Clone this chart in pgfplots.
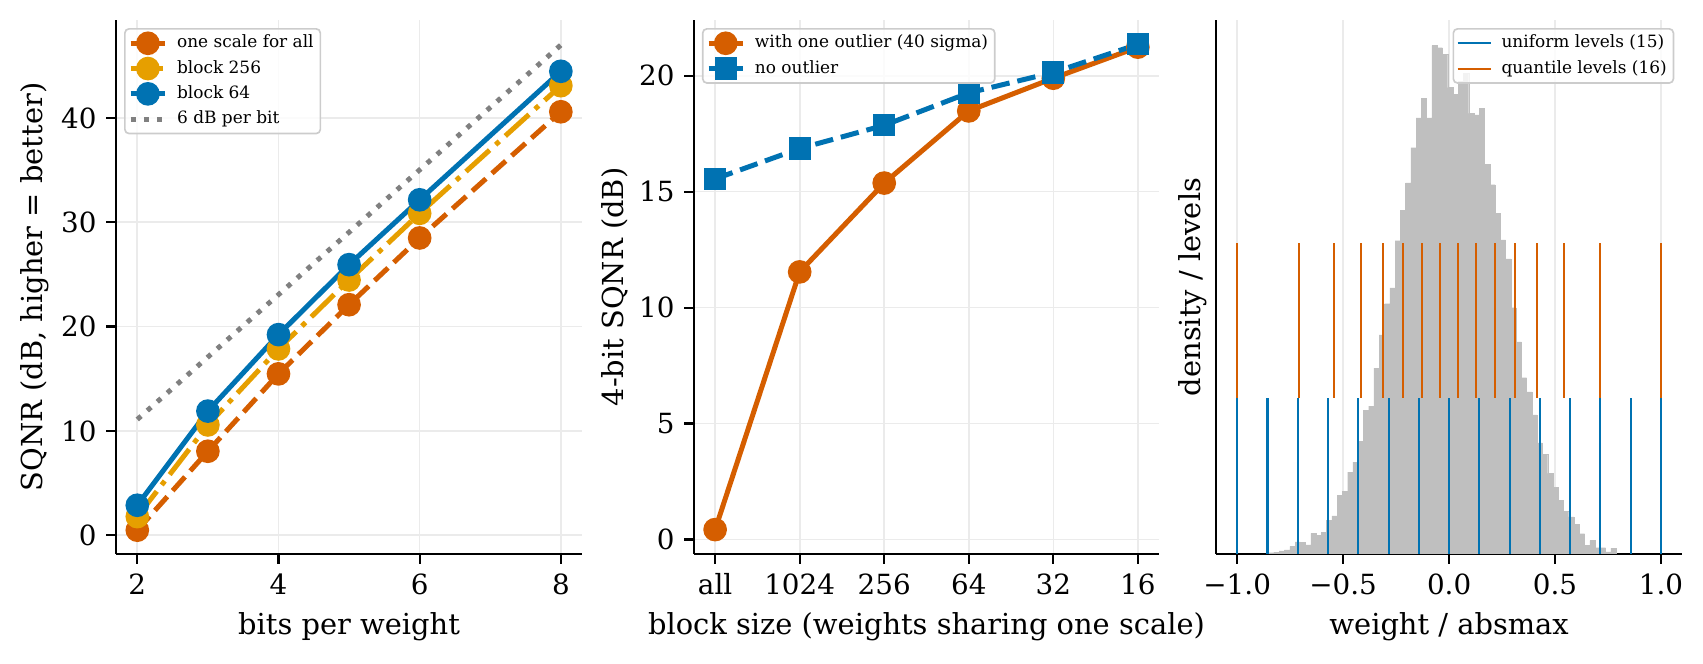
\documentclass[border=0pt]{standalone}
\usepackage{fontspec}
\setmainfont{DejaVu Serif}
\usepackage{pgfplots}
\usepackage{pgfplotstable}
\pgfplotsset{compat=1.18}

\definecolor{cvermil}{HTML}{D55E00}
\definecolor{corange}{HTML}{E69F00}
\definecolor{cblue}{HTML}{0072B2}
\definecolor{cgray}{HTML}{808080}
\definecolor{cgrid}{HTML}{EBEBEB}
\definecolor{histgray}{HTML}{BFBFBF}

% SQNR against bits per weight
\pgfplotstableread{
bits onescale block256 block64
2 0.48 1.78 2.87
3 8.05 10.57 11.90
4 15.47 17.86 19.23
5 22.10 24.47 25.94
6 28.50 30.86 32.16
8 40.60 43.10 44.48
}\bitstable

% 6 dB per bit reference line
\pgfplotstableread{
bits ref
2 11.1
8 47.0
}\reftable

% 4-bit SQNR against block size (0 = all, 1 = 1024, ..., 5 = 16)
\pgfplotstableread{
pos outlier clean
0 0.43 15.55
1 11.54 16.86
2 15.37 17.86
3 18.48 19.26
4 19.89 20.14
5 21.23 21.35
}\blocktable

% histogram of weight / absmax (left bin edges, density)
\pgfplotstableread{
left density
-0.8513 0.004
-0.8265 0.006
-0.8016 0.010
-0.7768 0.013
-0.7519 0.024
-0.7271 0.039
-0.7023 0.037
-0.6774 0.029
-0.6526 0.066
-0.6277 0.059
-0.6029 0.070
-0.5781 0.109
-0.5532 0.122
-0.5284 0.189
-0.5035 0.202
-0.4787 0.263
-0.4539 0.295
-0.4290 0.362
-0.4042 0.461
-0.3793 0.475
-0.3545 0.597
-0.3297 0.704
-0.3048 0.804
-0.2800 0.855
-0.2551 1.006
-0.2303 1.103
-0.2055 1.192
-0.1806 1.305
-0.1558 1.401
-0.1309 1.463
-0.1061 1.401
-0.0813 1.633
-0.0564 1.626
-0.0316 1.605
-0.0067 1.498
0.0181 1.476
0.0429 1.518
0.0678 1.543
0.0926 1.415
0.1175 1.410
0.1423 1.431
0.1671 1.252
0.1920 1.186
0.2168 1.095
0.2417 1.009
0.2665 0.948
0.2913 0.791
0.3162 0.681
0.3410 0.566
0.3659 0.521
0.3907 0.447
0.4155 0.357
0.4404 0.321
0.4652 0.259
0.4901 0.215
0.5149 0.173
0.5397 0.138
0.5646 0.119
0.5894 0.096
0.6143 0.065
0.6391 0.028
0.6639 0.043
0.6888 0.020
0.7136 0.020
0.7385 0.007
0.7633 0.019
0.7881 0
}\histtable

% 4-bit level sets: position, segment centre, segment half-height
\pgfplotstableread{
v mid half
-1.0000 0.25 0.25
-0.8571 0.25 0.25
-0.7143 0.25 0.25
-0.5714 0.25 0.25
-0.4286 0.25 0.25
-0.2857 0.25 0.25
-0.1429 0.25 0.25
0.0000 0.25 0.25
0.1429 0.25 0.25
0.2857 0.25 0.25
0.4286 0.25 0.25
0.5714 0.25 0.25
0.7143 0.25 0.25
0.8571 0.25 0.25
1.0000 0.25 0.25
}\uniformlevels

\pgfplotstableread{
v mid half
-1.000 0.75 0.25
-0.710 0.75 0.25
-0.544 0.75 0.25
-0.416 0.75 0.25
-0.312 0.75 0.25
-0.218 0.75 0.25
-0.128 0.75 0.25
-0.0427 0.75 0.25
0.0427 0.75 0.25
0.128 0.75 0.25
0.218 0.75 0.25
0.312 0.75 0.25
0.416 0.75 0.25
0.544 0.75 0.25
0.710 0.75 0.25
1.000 0.75 0.25
}\quantilelevels

\pgfplotsset{
  panel/.style={
    scale only axis, width=167.7pt, height=192.2pt,
    anchor=south west,
    axis x line=bottom, axis y line=left,
    axis line style={-, line width=0.8pt, black},
    tick align=outside, major tick length=3.5pt,
    every tick/.style={black, line width=0.8pt},
    tick label style={font=\fontsize{10}{12}\selectfont},
    label style={font=\fontsize{10.4}{12.5}\selectfont},
    /pgf/number format/assume math mode=true,
    grid=major, major grid style={draw=cgrid, line width=0.6pt},
    legend cell align=left,
    legend style={font=\fontsize{6.1}{7.3}\selectfont, draw=black!20,
      fill=white, fill opacity=0.8, text opacity=1, rounded corners=1.5pt,
      line width=0.6pt, inner xsep=1.2pt, inner ysep=0.8pt,
      row sep=0.3pt, column sep=2.2pt,
      nodes={inner sep=1.2pt, text height=4.8pt, text depth=1.6pt}},
  },
  markline/.style={
    legend image code/.code={\draw[opacity=1, mark repeat=2, mark phase=2, ##1]
      plot coordinates {(0pt,0pt) (6.2pt,0pt) (12.4pt,0pt)};},
  },
}

\begin{document}
\begin{tikzpicture}
\useasboundingbox (0,0) rectangle (613pt,238.7pt);

% left: SQNR vs bits
\begin{axis}[panel, markline, at={(41.8pt,39.3pt)},
  xmin=1.7, xmax=8.3, ymin=-1.8, ymax=49.4,
  xtick={2,4,6,8}, ytick={0,10,20,30,40},
  xlabel={bits per weight}, ylabel={SQNR (dB, higher = better)},
  xlabel style={at={(axis description cs:0.5,-0.136)}, anchor=center},
  ylabel style={at={(axis description cs:-0.175,0.5)}, anchor=center},
  legend style={at={(0.017,0.985)}, anchor=north west},
]
\addplot[cvermil, line width=1.8pt, dash pattern=on 6.66pt off 2.88pt,
  mark=*, mark size=3.35pt, mark options={solid, draw=none, fill=cvermil}]
  table[x=bits, y=onescale] {\bitstable};
\addlegendentry{one scale for all}
\addplot[corange, line width=1.8pt, dash pattern=on 11.5pt off 2.9pt on 1.8pt off 2.9pt,
  mark=*, mark size=3.35pt, mark options={solid, draw=none, fill=corange}]
  table[x=bits, y=block256] {\bitstable};
\addlegendentry{block 256}
\addplot[cblue, line width=1.8pt,
  mark=*, mark size=3.35pt, mark options={solid, draw=none, fill=cblue}]
  table[x=bits, y=block64] {\bitstable};
\addlegendentry{block 64}
\addplot[cgray, line width=1.8pt, dash pattern=on 1.8pt off 3.0pt]
  table[x=bits, y=ref] {\reftable};
\addlegendentry{6 dB per bit}
\end{axis}

% middle: 4-bit SQNR vs block size
\begin{axis}[panel, markline, at={(249.8pt,39.3pt)}, width=167.4pt,
  xmin=-0.25, xmax=5.25, ymin=-0.62, ymax=22.4,
  xtick={0,1,2,3,4,5}, xticklabels={all,1024,256,64,32,16},
  ytick={0,5,10,15,20},
  xlabel={block size (weights sharing one scale)}, ylabel={4-bit SQNR (dB)},
  xlabel style={at={(axis description cs:0.5,-0.136)}, anchor=center},
  ylabel style={at={(axis description cs:-0.170,0.5)}, anchor=center},
  legend style={at={(0.017,0.985)}, anchor=north west},
]
\addplot[cvermil, line width=1.8pt,
  mark=*, mark size=3.35pt, mark options={solid, draw=none, fill=cvermil}]
  table[x=pos, y=outlier] {\blocktable};
\addlegendentry{with one outlier (40 sigma)}
\addplot[cblue, line width=1.8pt, dash pattern=on 6.66pt off 2.88pt,
  mark=square*, mark size=3.1pt, mark options={solid, draw=none, fill=cblue}]
  table[x=pos, y=clean] {\blocktable};
\addlegendentry{no outlier}
\end{axis}

% right: weight histogram and level positions
\begin{axis}[panel, at={(437.7pt,39.3pt)}, width=167.8pt,
  xmin=-1.1, xmax=1.1, ymin=0, ymax=1.715,
  xtick={-1,-0.5,0,0.5,1}, xticklabels={−1.0,−0.5,0.0,0.5,1.0},
  ytick=\empty,
  xlabel={weight / absmax}, ylabel={density / levels},
  xlabel style={at={(axis description cs:0.5,-0.136)}, anchor=center},
  ylabel style={at={(axis description cs:-0.050,0.5)}, anchor=center},
  legend style={at={(0.983,0.985)}, anchor=north east},
  legend image code/.code={\draw[opacity=1, #1] (0pt,0pt) -- (12pt,0pt);},
]
\addplot[forget plot, ybar interval, fill=histgray, draw=histgray, line width=0.1pt]
  table[x=left, y=density] {\histtable};
\addplot[forget plot, draw=none, mark=none,
  error bars/.cd, y dir=both, y explicit, error mark=none,
  error bar style={draw=cblue, line width=0.75pt, solid}]
  table[x=v, y=mid, y error=half] {\uniformlevels};
\addplot[forget plot, draw=none, mark=none,
  error bars/.cd, y dir=both, y explicit, error mark=none,
  error bar style={draw=cvermil, line width=0.75pt, solid}]
  table[x=v, y=mid, y error=half] {\quantilelevels};
\addlegendimage{cblue, line width=0.75pt}
\addlegendentry{uniform levels (15)}
\addlegendimage{cvermil, line width=0.75pt}
\addlegendentry{quantile levels (16)}
\end{axis}
\end{tikzpicture}
\end{document}
